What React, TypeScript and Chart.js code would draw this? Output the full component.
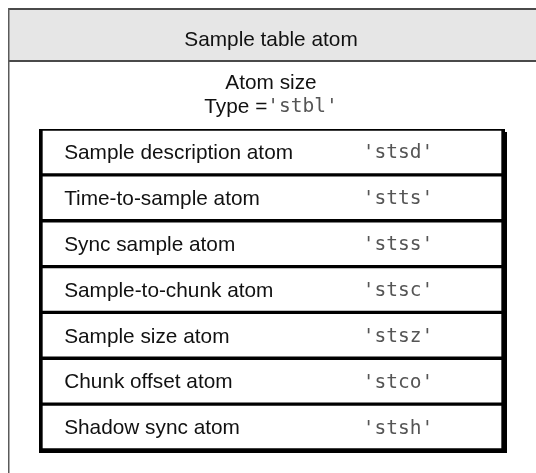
import React, { useEffect, useRef } from "react";
import { Chart, registerables } from "chart.js";

Chart.register(...registerables);

const headerTitle = "Sample table atom";
const sizeLabel = "Atom size";
const typePrefix = "Type =";
const typeCode = "'stbl'";
const atomNames = [
  "Sample description atom",
  "Time-to-sample atom",
  "Sync sample atom",
  "Sample-to-chunk atom",
  "Sample size atom",
  "Chunk offset atom",
  "Shadow sync atom",
];
const atomCodes = ["'stsd'", "'stts'", "'stss'", "'stsc'", "'stsz'", "'stco'", "'stsh'"];
const rowSpan: [number, number] = [0, 1];
const nameAt = 0.054;
const codeAt = 0.695;

const SANS = '"Liberation Sans", Arial, sans-serif';
const MONO = '"DejaVu Sans Mono", monospace';
const SANS_SIZE = "20.8px";
const MONO_SIZE = "19.5px";
const MONO_COLOR = "#555555";

const diagramPlugin = {
  id: "diagram",
  beforeDraw(chart: any) {
    const ctx = chart.ctx;
    const W = chart.width;
    const H = chart.height;
    ctx.save();
    ctx.fillStyle = "#ffffff";
    ctx.fillRect(0, 0, W, H);
    // header band
    ctx.fillStyle = "#e6e6e6";
    ctx.fillRect(8, 9, W, 52);
    ctx.strokeStyle = "#4a4a4a";
    ctx.lineWidth = 2;
    ctx.beginPath();
    ctx.moveTo(9, 9);
    ctx.lineTo(W + 2, 9);
    ctx.moveTo(9, 61);
    ctx.lineTo(W + 2, 61);
    ctx.stroke();
    ctx.strokeStyle = "#5a5a5a";
    ctx.lineWidth = 1.5;
    ctx.beginPath();
    ctx.moveTo(8.75, 8);
    ctx.lineTo(8.75, H + 2);
    ctx.stroke();
    ctx.fillStyle = "#111111";
    ctx.textAlign = "center";
    ctx.textBaseline = "middle";
    ctx.font = `${SANS_SIZE} ${SANS}`;
    const cx = 271;
    ctx.fillText(headerTitle, cx, 40);
    ctx.fillText(sizeLabel, cx, 83);
    const wp = ctx.measureText(typePrefix).width;
    ctx.font = `${MONO_SIZE} ${MONO}`;
    const wc = ctx.measureText(typeCode).width;
    const x0 = cx - (wp + wc) / 2;
    ctx.textAlign = "left";
    ctx.font = `${SANS_SIZE} ${SANS}`;
    ctx.fillText(typePrefix, x0, 107);
    ctx.font = `${MONO_SIZE} ${MONO}`;
    ctx.fillStyle = MONO_COLOR;
    ctx.fillText(typeCode, x0 + wp, 107);
    ctx.restore();
  },
  afterDatasetsDraw(chart: any) {
    const ctx = chart.ctx;
    const meta = chart.getDatasetMeta(0);
    const xs = chart.scales.x;
    const area = chart.chartArea;
    ctx.save();
    // drop shadow on right and bottom
    ctx.fillStyle = "#000000";
    ctx.fillRect(area.right, area.top + 3, 2, area.bottom - area.top);
    ctx.fillRect(area.left, area.bottom, area.right - area.left + 2, 3);
    ctx.textBaseline = "middle";
    ctx.textAlign = "left";
    meta.data.forEach((bar: any, i: number) => {
      ctx.fillStyle = "#111111";
      ctx.font = `${SANS_SIZE} ${SANS}`;
      ctx.fillText(atomNames[i], xs.getPixelForValue(nameAt), bar.y + 1.5);
      ctx.fillStyle = MONO_COLOR;
      ctx.font = `${MONO_SIZE} ${MONO}`;
      ctx.fillText(atomCodes[i], xs.getPixelForValue(codeAt), bar.y + 1.5);
    });
    ctx.restore();
  },
};

export default function App() {
  const ref = useRef<HTMLCanvasElement | null>(null);
  useEffect(() => {
    if (!ref.current) return;
    const chart = new Chart(ref.current, {
      type: "bar",
      data: {
        labels: atomNames,
        datasets: [
          {
            data: atomNames.map(() => rowSpan) as any,
            backgroundColor: "#ffffff",
            borderColor: "#000000",
            borderWidth: { top: 2, bottom: 2, left: 4, right: 4 } as any,
            borderSkipped: false,
            barPercentage: 1,
            categoryPercentage: 1,
          },
        ],
      },
      options: {
        indexAxis: "y",
        animation: false,
        responsive: false,
        maintainAspectRatio: false,
        events: [],
        layout: { padding: { left: 39, right: 31, top: 129, bottom: 23 } },
        plugins: { legend: { display: false }, tooltip: { enabled: false }, title: { display: false } },
        scales: {
          x: { type: "linear", min: 0, max: 1, display: false },
          y: { type: "category", display: false },
        },
      },
      plugins: [diagramPlugin],
    });
    return () => chart.destroy();
  }, []);
  return (
    <div style={{ position: "fixed", left: 0, top: 0, width: 536, height: 473, background: "#fff" }}>
      <canvas ref={ref} width={536} height={473} style={{ width: 536, height: 473, display: "block" }} />
    </div>
  );
}
